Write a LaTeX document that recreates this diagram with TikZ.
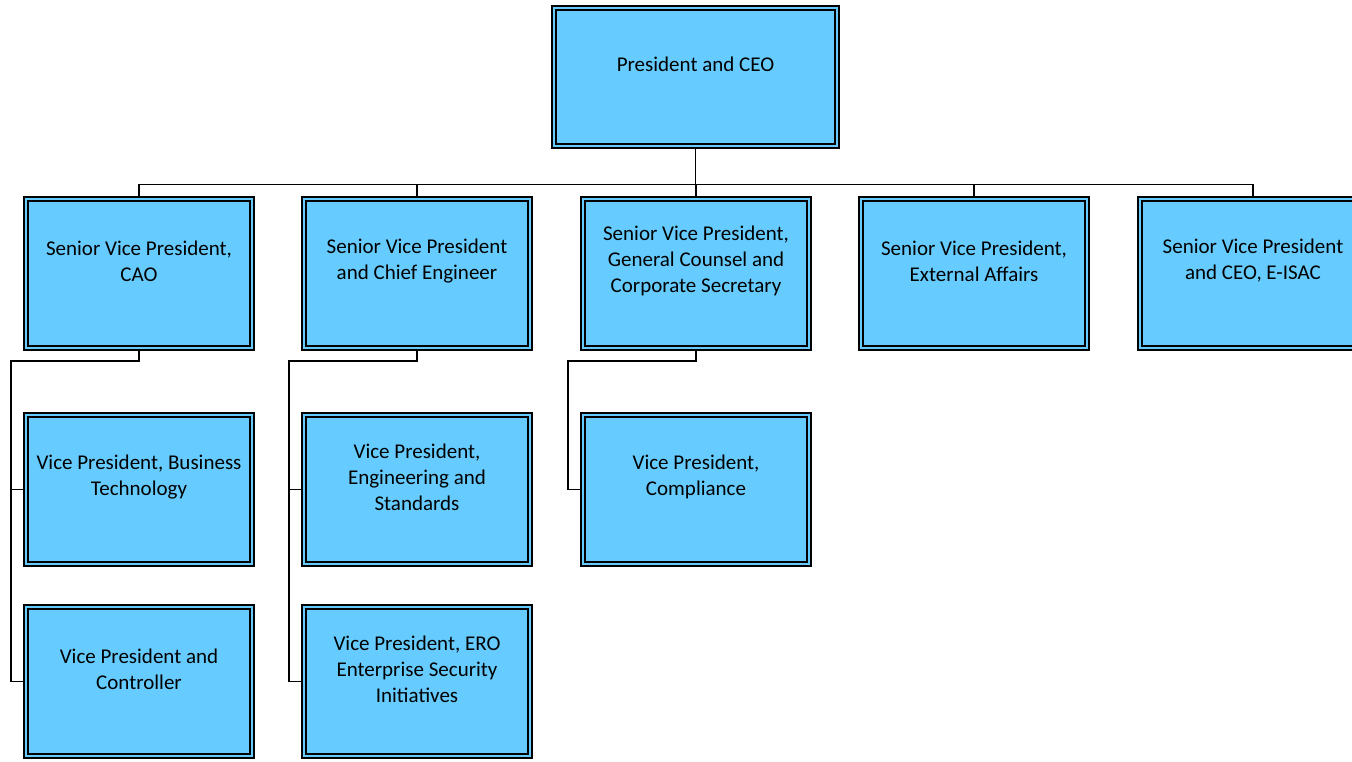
\documentclass[tikz,border=0pt]{standalone}
\usepackage{fontspec}
\setmainfont{Carlito}
\usepackage{tikz}
\usetikzlibrary{positioning}
\definecolor{boxblue}{HTML}{66CCFF}

\begin{document}
\begin{tikzpicture}[x=1pt,y=-1pt,line width=1.6pt,
    unitbox/.style={rectangle,draw=black,fill=boxblue,double=boxblue,double distance=2.6pt,
      minimum width=226.2pt,minimum height=149.2pt,inner sep=0pt},
    unittext/.style={align=center,yshift=12.5pt,font=\fontsize{21}{26}\selectfont}]
  \useasboundingbox (0,0) rectangle (1352,762);
  \clip (0,0) rectangle (1352,762);
  \node [unitbox,minimum width=283.2pt,minimum height=138.2pt,
    label={[unittext]center:President and CEO}] (ceo) at (695.5,77) {};
  \foreach \i/\x/\txt in {1/139/{Senior Vice President,\\CAO},
      2/417/{Senior Vice President\\and Chief Engineer},
      3/696/{Senior Vice President,\\General Counsel and\\Corporate Secretary},
      4/974/{Senior Vice President,\\External Affairs},
      5/1253/{Senior Vice President\\and CEO, E-ISAC}}
    \node [unitbox,label={[unittext]center:\txt}] (svp\i) at (\x,273.5) {};
  \node [unitbox,label={[unittext]center:Vice President, Business\\Technology}] (vpbt) at (139,489.5) {};
  \node [unitbox,label={[unittext]center:Vice President,\\Engineering and\\Standards}] (vpes) at (417,489.5) {};
  \node [unitbox,label={[unittext]center:Vice President,\\Compliance}] (vpcomp) at (696,489.5) {};
  \node [unitbox,label={[unittext]center:Vice President and\\Controller}] (vpctl) at (139,681.5) {};
  \node [unitbox,label={[unittext]center:Vice President, ERO\\Enterprise Security\\Initiatives}] (vpero) at (417,681.5) {};
  \coordinate (bus) at (0,184.5);
  \draw (ceo.south) -- (ceo.south |- bus);
  \draw (svp1.north |- bus) -- (svp5.north |- bus);
  \foreach \i in {1,...,5}
    \draw (svp\i.north) -- (svp\i.north |- bus);
  \draw (svp1.south) -- ++(0,12) -| ([xshift=-14pt]vpctl.west) -- (vpctl.west);
  \draw (vpbt.west) -- ++(-14,0);
  \draw (svp2.south) -- ++(0,12) -| ([xshift=-14pt]vpero.west) -- (vpero.west);
  \draw (vpes.west) -- ++(-14,0);
  \draw (svp3.south) -- ++(0,12) -| ([xshift=-14pt]vpcomp.west) -- (vpcomp.west);
\end{tikzpicture}
\end{document}
